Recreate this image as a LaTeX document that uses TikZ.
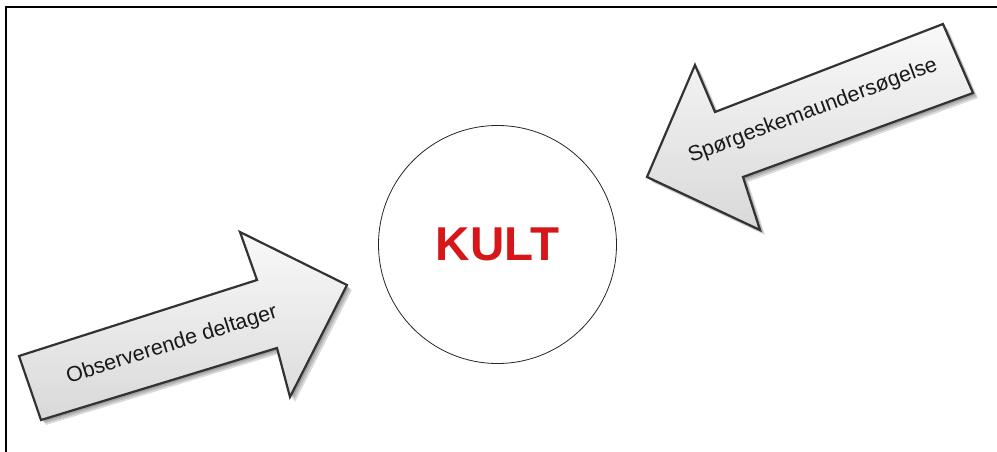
\documentclass[tikz,border=0pt]{standalone}
\usepackage{fontspec}
\setmainfont{Liberation Sans}
\definecolor{kultred}{RGB}{214,22,24}
\begin{document}
\begin{tikzpicture}[x=1pt,y=-1pt,
  arrowbody/.style={draw=black!80, line width=2.2pt, line join=miter,
    top color=gray!5, bottom color=gray!30},
  arrowshade/.style={fill=black, opacity=0.14},
  arrowlabel/.style={font=\fontsize{21.5}{21.5}\selectfont, text=black!90, inner sep=0pt},
  ]
\useasboundingbox (0,0) rectangle (997,452);
\fill[white] (0,0) rectangle (997,452);
% frame along the top and left edges
\draw[line width=2pt] (6,452) -- (6,7) -- (997,7);

% block arrow outlines
\def\arrowone{(19,356) -- (257,280) -- (240,232) -- (347,285) -- (290,397) -- (277,348) -- (41,420) -- cycle}
\def\arrowtwo{(943,24) -- (715,112) -- (695,65) -- (647,177) -- (760,230) -- (743,177) -- (973,93) -- cycle}

% soft drop shadows
\foreach \d in {2,3.5,5}{
  \fill[arrowshade, shift={(\d,\d)}] \arrowone;
  \fill[arrowshade, shift={(\d,\d)}] \arrowtwo;
}
\path[arrowbody] \arrowone;
\path[arrowbody] \arrowtwo;

\node[arrowlabel, rotate=17.5] (obs) at (172,345) {Observerende deltager};
\node[arrowlabel, rotate=20.5] (spg) at (813,111) {Spørgeskemaundersøgelse};

% central circle
\node[circle, draw=black!85, line width=0.8pt, minimum size=238pt, inner sep=0pt,
  font=\fontsize{47.5}{47.5}\selectfont\bfseries, text=kultred] (kult) at (497.5,244.5) {KULT};
\end{tikzpicture}
\end{document}
